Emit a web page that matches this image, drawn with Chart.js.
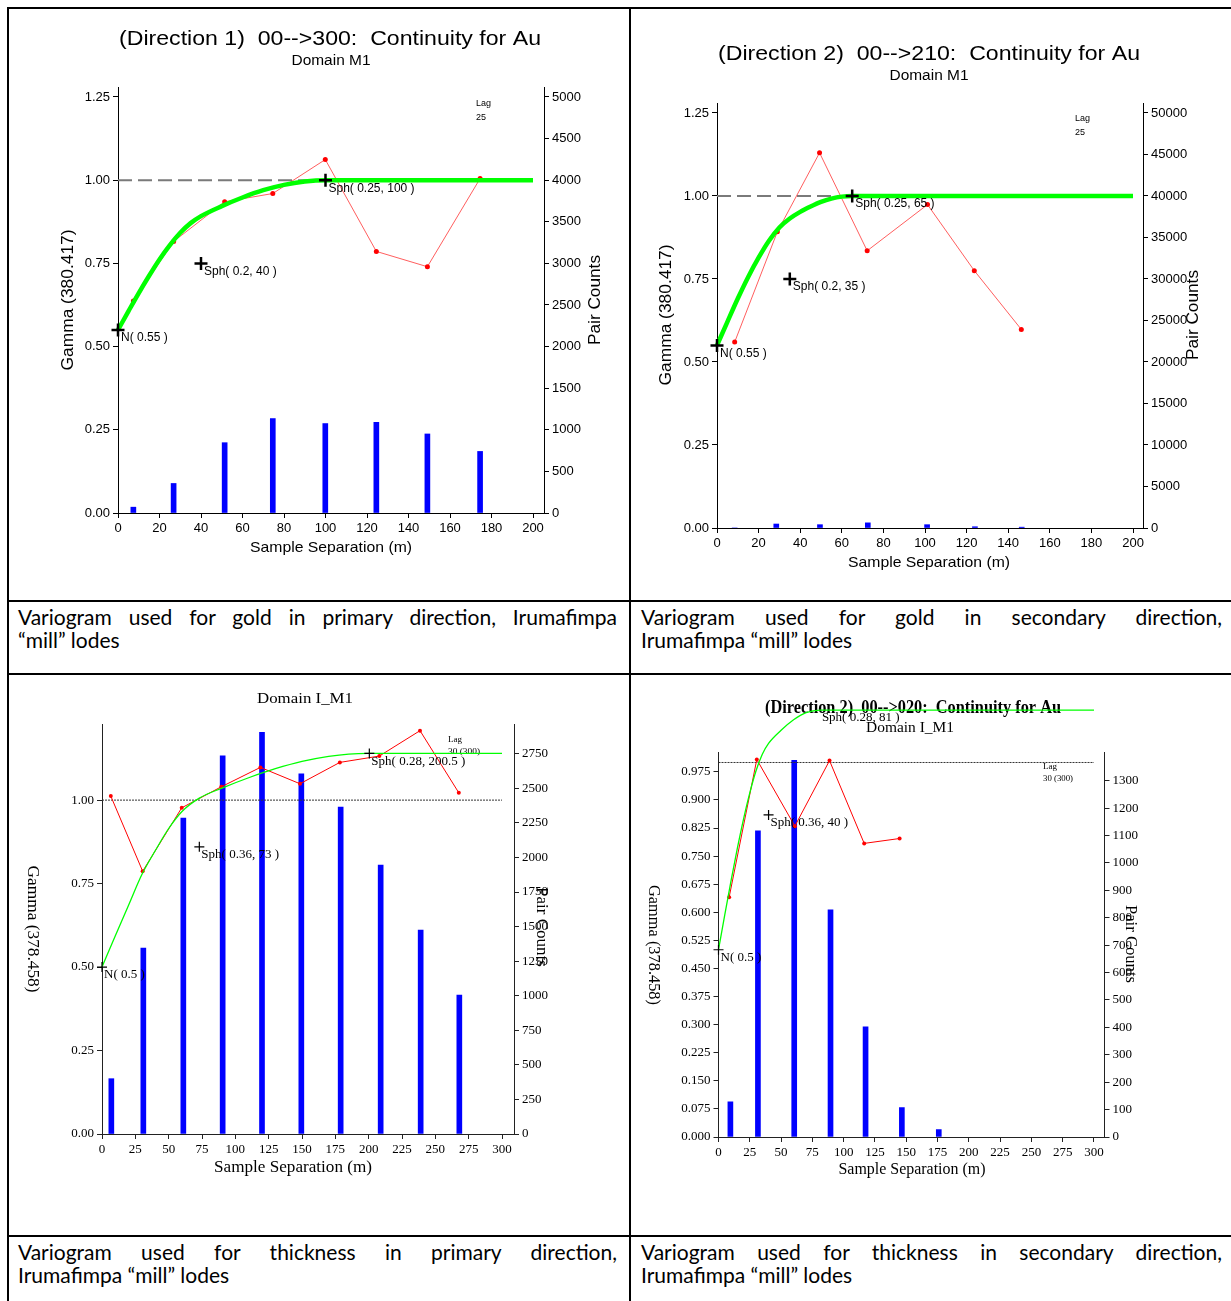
<!DOCTYPE html>
<html>
<head>
<meta charset="utf-8">
<script src="https://cdn.jsdelivr.net/npm/chart.js@4.4.1/dist/chart.umd.min.js"></script>
<style>
  html, body { margin: 0; padding: 0; background: #fff; }
  body { width: 1231px; height: 1301px; position: relative; overflow: hidden; }
  .rule { position: absolute; background: #000; }
  canvas { position: absolute; }
  .cap { position: absolute; font-family: Lato, 'Open Sans', sans-serif; font-size: 21px; line-height: 23px; color: #000; }
  .cap .l1 { text-align: justify; text-align-last: justify; white-space: nowrap; }
</style>
</head>
<body>
<!-- table rules -->
<div class="rule" style="left:7px;top:7px;width:1224px;height:2px"></div>
<div class="rule" style="left:7px;top:7px;width:2px;height:1294px"></div>
<div class="rule" style="left:629px;top:7px;width:2px;height:1294px"></div>
<div class="rule" style="left:7px;top:600px;width:1224px;height:2px"></div>
<div class="rule" style="left:7px;top:673px;width:1224px;height:2px"></div>
<div class="rule" style="left:7px;top:1235px;width:1224px;height:2px"></div>

<canvas id="c-tl" style="left:9px;top:10px" width="620" height="590"></canvas>
<canvas id="c-tr" style="left:632px;top:10px" width="599" height="590"></canvas>
<canvas id="c-bl" style="left:9px;top:676px" width="620" height="559"></canvas>
<canvas id="c-br" style="left:632px;top:676px" width="599" height="559"></canvas>

<div class="cap" style="left:18px;top:605px;width:599px">
  <div class="l1">Variogram used for gold in primary direction, Irumafimpa</div>
  <div>“mill” lodes</div>
</div>
<div class="cap" style="left:641px;top:605px;width:581px">
  <div class="l1">Variogram used for gold in secondary direction,</div>
  <div>Irumafimpa “mill” lodes</div>
</div>
<div class="cap" style="left:18px;top:1240px;width:599px">
  <div class="l1">Variogram used for thickness in primary direction,</div>
  <div>Irumafimpa “mill” lodes</div>
</div>
<div class="cap" style="left:641px;top:1240px;width:581px">
  <div class="l1">Variogram used for thickness in secondary direction,</div>
  <div>Irumafimpa “mill” lodes</div>
</div>

<script>
// ── Gold, direction 1 (00-->300) ─────────────────────────────────────────────
const d1LagX    = [7.4, 26.8, 51.4, 74.6, 99.9, 124.5, 149.1, 174.5];
const d1Gamma   = [0.637, 0.816, 0.935, 0.96, 1.062, 0.786, 0.74, 1.005];
const d1PairX   = [7.4, 26.8, 51.4, 74.6, 99.9, 124.5, 149.1, 174.5];
const d1Pairs   = [70, 355, 845, 1135, 1075, 1090, 950, 740];
const d1ModelX  = [0, 5, 10, 15, 20, 25, 30, 35, 40, 50, 60, 70, 80, 90, 100, 200];
const d1ModelY  = [0.55, 0.606, 0.661, 0.713, 0.762, 0.805, 0.842, 0.871, 0.892, 0.922, 0.948, 0.97, 0.986, 0.996, 1.0, 1.0];
const d1MarkX   = [0, 40, 100];
const d1MarkY   = [0.55, 0.75, 1.0];
const d1Marks   = ['N( 0.55 )', 'Sph( 0.2, 40 )', 'Sph( 0.25, 100 )'];
const d1SillX   = [0, 200];
const d1TicksX  = [0, 20, 40, 60, 80, 100, 120, 140, 160, 180, 200];
const d1TicksG  = [0, 0.25, 0.5, 0.75, 1.0, 1.25];
const d1TicksP  = [0, 500, 1000, 1500, 2000, 2500, 3000, 3500, 4000, 4500, 5000];

// ── Gold, direction 2 (00-->210) ─────────────────────────────────────────────
const d2LagX    = [8.5, 29.0, 49.3, 72.2, 101.2, 123.7, 146.3];
const d2Gamma   = [0.56, 0.892, 1.13, 0.835, 0.974, 0.775, 0.598];
const d2PairX   = [8.5, 28.5, 49.5, 72.5, 101, 124, 146.5];
const d2Pairs   = [0, 480, 400, 620, 400, 150, 100];
const d2ModelX  = [0, 5, 10, 15, 20, 25, 30, 35, 40, 45, 50, 55, 60, 65, 200];
const d2ModelY  = [0.55, 0.621, 0.691, 0.756, 0.814, 0.865, 0.905, 0.932, 0.952, 0.968, 0.982, 0.992, 0.998, 1.0, 1.0];
const d2MarkX   = [0, 35, 65];
const d2MarkY   = [0.55, 0.75, 1.0];
const d2Marks   = ['N( 0.55 )', 'Sph( 0.2, 35 )', 'Sph( 0.25, 65 )'];
const d2SillX   = [0, 200];
const d2TicksX  = [0, 20, 40, 60, 80, 100, 120, 140, 160, 180, 200];
const d2TicksG  = [0, 0.25, 0.5, 0.75, 1.0, 1.25];
const d2TicksP  = [0, 5000, 10000, 15000, 20000, 25000, 30000, 35000, 40000, 45000, 50000];

// ── Thickness, primary direction ─────────────────────────────────────────────
const t1LagX    = [6.6, 30.5, 59.8, 89.5, 118.8, 148.5, 178.4, 208.0, 238.5, 267.6];
const t1Gamma   = [1.012, 0.787, 0.977, 1.04, 1.098, 1.049, 1.113, 1.132, 1.208, 1.022];
const t1PairX   = [7, 31, 61, 90.5, 120, 149.5, 179, 209, 239, 268];
const t1Pairs   = [400, 1345, 2285, 2735, 2905, 2605, 2365, 1945, 1475, 1005];
const t1ModelX  = [0, 10, 20, 30, 40, 50, 60, 73, 90, 110, 130, 150, 170, 185, 200.5, 300];
const t1ModelY  = [0.5, 0.594, 0.686, 0.778, 0.849, 0.915, 0.966, 1.006, 1.036, 1.067, 1.094, 1.116, 1.131, 1.138, 1.14, 1.14];
const t1MarkX   = [0, 73, 200.5];
const t1MarkY   = [0.5, 0.86, 1.14];
const t1Marks   = ['N( 0.5 )', 'Sph( 0.36, 73 )', 'Sph( 0.28, 200.5 )'];
const t1SillX   = [0, 300];
const t1TicksX  = [0, 25, 50, 75, 100, 125, 150, 175, 200, 225, 250, 275, 300];
const t1TicksG  = [0, 0.25, 0.5, 0.75, 1.0];
const t1TicksP  = [0, 250, 500, 750, 1000, 1250, 1500, 1750, 2000, 2250, 2500, 2750];

// ── Thickness, secondary direction (00-->020) ────────────────────────────────
const t2LagX    = [8.5, 30.6, 61.0, 88.7, 116.4, 144.7];
const t2Gamma   = [0.64, 1.008, 0.83, 1.005, 0.784, 0.797];
const t2PairX   = [9.5, 31.5, 60.5, 89.5, 117.5, 146.5, 176];
const t2Pairs   = [128, 1117, 1375, 829, 402, 107, 27];
const t2ModelX  = [0, 5, 10, 15, 20, 25, 30, 35, 40, 50, 60, 70, 81, 300];
const t2ModelY  = [0.5, 0.593, 0.684, 0.77, 0.849, 0.919, 0.978, 1.022, 1.051, 1.086, 1.114, 1.133, 1.14, 1.14];
const t2MarkX   = [0, 40, 81];
const t2MarkY   = [0.5, 0.86, 1.14];
const t2Marks   = ['N( 0.5 )', 'Sph( 0.36, 40 )', 'Sph( 0.28, 81 )'];
const t2SillX   = [0, 300];
const t2TicksX  = [0, 25, 50, 75, 100, 125, 150, 175, 200, 225, 250, 275, 300];
const t2TicksG  = [0, 0.075, 0.15, 0.225, 0.3, 0.375, 0.45, 0.525, 0.6, 0.675, 0.75, 0.825, 0.9, 0.975];
const t2TicksP  = [0, 100, 200, 300, 400, 500, 600, 700, 800, 900, 1000, 1100, 1200, 1300];

// ── Styles ───────────────────────────────────────────────────────────────────
const SANS  = "'Liberation Sans', Arial, sans-serif";
const SERIF = "'Liberation Serif', 'Times New Roman', serif";

const GS_STYLE = {              // the two gold plots (sans, heavy model)
  family: SANS, tickSize: 13, axis: '#000',
  model: '#00ff00', modelWidth: 4.5,
  expLine: 'rgba(255,40,40,0.75)', expPoint: '#ff0000', expRadius: 2.5,
  sill: '#7a7a7a', sillWidth: 2, sillDash: [14, 6],
  crossRadius: 6.5, crossWidth: 2.5,
  markFont: '12px ' + SANS, markDx: 3, markDy: 8, barWidth: 5,
};
const TH_STYLE = {              // the two thickness plots (serif, thin lines)
  family: SERIF, tickSize: 13, axis: '#222',
  model: '#00ff00', modelWidth: 1.3,
  expLine: '#ff0000', expPoint: '#ff0000', expRadius: 2,
  sill: '#333', sillWidth: 1, sillDash: [2, 1],
  crossRadius: 5, crossWidth: 1.2,
  markFont: '13px ' + SERIF, markDx: 2, markDy: 8, barWidth: 5,
};

// ── Helpers ──────────────────────────────────────────────────────────────────
function pts(xs, ys) {
  return xs.map((x, i) => ({ x, y: ys[i] }));
}

function drawTexts(ctx, items, cell) {
  items.forEach(it => {
    ctx.save();
    ctx.font = it.font;
    ctx.fillStyle = '#000';
    ctx.textBaseline = 'middle';
    ctx.textAlign = it.align || 'center';
    ctx.translate(it.x - cell.left, it.y - cell.top);
    if (it.rot) ctx.rotate(it.rot * Math.PI / 180);
    if (it.w) ctx.scale(it.w / ctx.measureText(it.t).width, 1);
    ctx.fillText(it.t, 0, 0);
    ctx.restore();
  });
}

const overlayPlugin = {
  id: 'overlay',
  beforeDatasetsDraw(chart, args, opts) {
    drawTexts(chart.ctx, opts.texts, opts.cell);
  },
  afterDatasetsDraw(chart, args, opts) {
    const ctx = chart.ctx;
    const meta = chart.getDatasetMeta(0);
    ctx.save();
    ctx.font = opts.markFont;
    ctx.fillStyle = '#000';
    ctx.textAlign = 'left';
    ctx.textBaseline = 'middle';
    meta.data.forEach((pt, i) => {
      ctx.fillText(opts.marks[i], pt.x + opts.markDx, pt.y + opts.markDy);
    });
    ctx.restore();
  },
};

function axis(st, fmt, extra) {
  return {
    type: 'linear',
    bounds: 'data',
    offset: false,
    border: { color: st.axis, width: 1 },
    grid: { drawOnChartArea: false, color: st.axis, tickLength: 5, offset: false },
    ticks: {
      autoSkip: false, maxRotation: 0, padding: 3, color: '#000',
      font: { family: st.family, size: st.tickSize },
      callback: fmt,
    },
    ...extra,
  };
}

// cell / plot are page coordinates; the plot rect is pinned through afterFit
function variogramChart(id, cell, plot, s, st, texts) {
  const fix = list => sc => { sc.ticks = list.map(v => ({ value: v })); };
  return new Chart(document.getElementById(id), {
    type: 'line',
    data: {
      datasets: [
        {
          type: 'scatter', data: pts(s.markX, s.markY), yAxisID: 'y',
          pointStyle: 'cross', pointRadius: st.crossRadius, pointBorderWidth: st.crossWidth,
          borderColor: '#000', backgroundColor: '#000', clip: false,
        },
        {
          data: pts(s.modelX, s.modelY), yAxisID: 'y',
          borderColor: st.model, borderWidth: st.modelWidth, pointRadius: 0,
          cubicInterpolationMode: 'monotone', clip: false,
        },
        {
          data: pts(s.lagX, s.gamma), yAxisID: 'y',
          borderColor: st.expLine, borderWidth: 1,
          pointRadius: st.expRadius, pointBackgroundColor: st.expPoint, pointBorderWidth: 0,
        },
        {
          data: pts(s.sillX, s.sillX.map(() => 1)), yAxisID: 'y',
          borderColor: st.sill, borderWidth: st.sillWidth, borderDash: st.sillDash, pointRadius: 0,
        },
        {
          type: 'bar', data: pts(s.pairX, s.pairs), yAxisID: 'y2',
          backgroundColor: '#0000ff', barThickness: st.barWidth,
        },
      ],
    },
    options: {
      responsive: false,
      animation: false,
      events: [],
      layout: { autoPadding: false, padding: { top: plot.top - cell.top, left: 0, right: 0, bottom: 0 } },
      plugins: {
        legend: { display: false },
        tooltip: { enabled: false },
        overlay: {
          cell, texts, marks: s.marks,
          markFont: st.markFont, markDx: st.markDx, markDy: st.markDy,
        },
      },
      scales: {
        x: axis(st, v => String(v), {
          position: 'bottom', min: 0, max: s.xMax,
          afterBuildTicks: fix(s.ticksX),
          afterFit: sc => { sc.height = cell.top + cell.height - plot.bottom; },
        }),
        y: axis(st, v => v.toFixed(s.decimals), {
          position: 'left', min: 0, max: s.yMax,
          afterBuildTicks: fix(s.ticksG),
          afterFit: sc => { sc.width = plot.left - cell.left; },
        }),
        y2: axis(st, v => String(v), {
          position: 'right', min: 0, max: s.y2Max,
          afterBuildTicks: fix(s.ticksP),
          afterFit: sc => { sc.width = cell.left + cell.width - plot.right; },
        }),
      },
    },
    plugins: [overlayPlugin],
  });
}

// ── Build the four plots ─────────────────────────────────────────────────────
variogramChart('c-tl',
  { left: 9, top: 10, width: 620, height: 590 },
  { left: 118, top: 87, right: 544, bottom: 513 },
  { lagX: d1LagX, gamma: d1Gamma, pairX: d1PairX, pairs: d1Pairs, modelX: d1ModelX, modelY: d1ModelY,
    markX: d1MarkX, markY: d1MarkY, marks: d1Marks, sillX: d1SillX,
    ticksX: d1TicksX, ticksG: d1TicksG, ticksP: d1TicksP,
    xMax: 205.3, yMax: 1.28, y2Max: 5120, decimals: 2 },
  GS_STYLE,
  [
    { t: '(Direction 1)  00-->300:  Continuity for Au', x: 330, y: 39, font: '20px ' + SANS, w: 422 },
    { t: 'Domain M1', x: 331, y: 61, font: '14px ' + SANS, w: 79 },
    { t: 'Gamma (380.417)', x: 68, y: 300, font: '17px ' + SANS, rot: -90, w: 141 },
    { t: 'Pair Counts', x: 595, y: 300, font: '17px ' + SANS, rot: -90, w: 90 },
    { t: 'Sample Separation (m)', x: 331, y: 548, font: '15px ' + SANS, w: 162 },
    { t: 'Lag', x: 476, y: 104, font: '9px ' + SANS, align: 'left' },
    { t: '25', x: 476, y: 118, font: '9px ' + SANS, align: 'left' },
  ]);

variogramChart('c-tr',
  { left: 632, top: 10, width: 599, height: 590 },
  { left: 717, top: 103, right: 1143, bottom: 528 },
  { lagX: d2LagX, gamma: d2Gamma, pairX: d2PairX, pairs: d2Pairs, modelX: d2ModelX, modelY: d2ModelY,
    markX: d2MarkX, markY: d2MarkY, marks: d2Marks, sillX: d2SillX,
    ticksX: d2TicksX, ticksG: d2TicksG, ticksP: d2TicksP,
    xMax: 204.8, yMax: 1.28, y2Max: 51200, decimals: 2 },
  GS_STYLE,
  [
    { t: '(Direction 2)  00-->210:  Continuity for Au', x: 929, y: 54, font: '20px ' + SANS, w: 422 },
    { t: 'Domain M1', x: 929, y: 76, font: '14px ' + SANS, w: 79 },
    { t: 'Gamma (380.417)', x: 666, y: 315, font: '17px ' + SANS, rot: -90, w: 141 },
    { t: 'Pair Counts', x: 1193, y: 315, font: '17px ' + SANS, rot: -90, w: 90 },
    { t: 'Sample Separation (m)', x: 929, y: 563, font: '15px ' + SANS, w: 162 },
    { t: 'Lag', x: 1075, y: 119, font: '9px ' + SANS, align: 'left' },
    { t: '25', x: 1075, y: 133, font: '9px ' + SANS, align: 'left' },
  ]);

variogramChart('c-bl',
  { left: 9, top: 676, width: 620, height: 559 },
  { left: 102, top: 724, right: 514, bottom: 1134 },
  { lagX: t1LagX, gamma: t1Gamma, pairX: t1PairX, pairs: t1Pairs, modelX: t1ModelX, modelY: t1ModelY,
    markX: t1MarkX, markY: t1MarkY, marks: t1Marks, sillX: t1SillX,
    ticksX: t1TicksX, ticksG: t1TicksG, ticksP: t1TicksP,
    xMax: 309, yMax: 1.228, y2Max: 2965, decimals: 2 },
  TH_STYLE,
  [
    { t: 'Domain I_M1', x: 305, y: 699, font: '15px ' + SERIF, w: 96 },
    { t: 'Gamma (378.458)', x: 32, y: 929, font: '16px ' + SERIF, rot: 90, w: 127 },
    { t: 'Pair Counts', x: 541, y: 927, font: '16px ' + SERIF, rot: 90, w: 80 },
    { t: 'Sample Separation (m)', x: 293, y: 1168, font: '16px ' + SERIF, w: 158 },
    { t: 'Lag', x: 448, y: 740, font: '9px ' + SERIF, align: 'left' },
    { t: '30 (300)', x: 448, y: 752, font: '9px ' + SERIF, align: 'left', w: 32 },
  ]);

variogramChart('c-br',
  { left: 632, top: 676, width: 599, height: 559 },
  { left: 718.5, top: 752, right: 1104.5, bottom: 1137 },
  { lagX: t2LagX, gamma: t2Gamma, pairX: t2PairX, pairs: t2Pairs, modelX: t2ModelX, modelY: t2ModelY,
    markX: t2MarkX, markY: t2MarkY, marks: t2Marks, sillX: t2SillX,
    ticksX: t2TicksX, ticksG: t2TicksG, ticksP: t2TicksP,
    xMax: 308.4, yMax: 1.028, y2Max: 1405, decimals: 3 },
  TH_STYLE,
  [
    { t: '(Direction 2)  00-->020:  Continuity for Au', x: 913, y: 708, font: 'bold 19px ' + SERIF, w: 296 },
    { t: 'Domain I_M1', x: 910, y: 728, font: '14px ' + SERIF, w: 88 },
    { t: 'Gamma (378.458)', x: 653, y: 945, font: '16px ' + SERIF, rot: 90, w: 120 },
    { t: 'Pair Counts', x: 1130, y: 944, font: '16px ' + SERIF, rot: 90, w: 78 },
    { t: 'Sample Separation (m)', x: 912, y: 1170, font: '16px ' + SERIF, w: 147 },
    { t: 'Lag', x: 1043, y: 767, font: '9px ' + SERIF, align: 'left' },
    { t: '30 (300)', x: 1043, y: 779, font: '9px ' + SERIF, align: 'left', w: 30 },
  ]);
</script>
</body>
</html>
